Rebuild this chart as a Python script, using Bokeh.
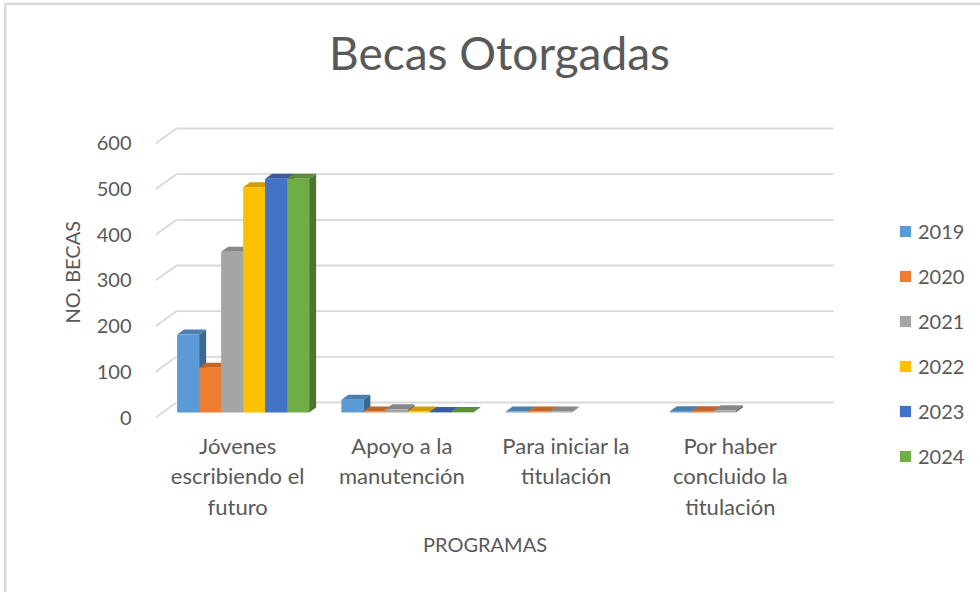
import math
from bokeh.plotting import figure
from bokeh.models import Legend, LegendItem, FixedTicker, Range1d, Title
from bokeh.core.properties import value
from bokeh.embed import file_html
from bokeh.resources import INLINE

# ---------------- data ----------------
categories = [
    "Jóvenes\nescribiendo el\nfuturo",
    "Apoyo a la\nmanutención",
    "Para iniciar la\ntitulación",
    "Por haber\nconcluido la\ntitulación",
]
years = ["2019", "2020", "2021", "2022", "2023", "2024"]
nan = float("nan")
v2019 = [171, 28, 2, 3]
v2020 = [98, 2, 2, 3]
v2021 = [352, 7, 2, 5]
v2022 = [493, 2, nan, nan]
v2023 = [512, 1, nan, nan]
v2024 = [512, 1, nan, nan]
series = [v2019, v2020, v2021, v2022, v2023, v2024]
colors = ["#5B9BD5", "#ED7D31", "#A5A5A5", "#FFC000", "#4472C4", "#70AD47"]
y_ticks = [0, 100, 200, 300, 400, 500, 600]

FONT = "Lato"
TXT = "#595959"
GRID = "#D9D9D9"

# ---------------- layout geometry (page pixels) ----------------
W, H = 980, 592
LEFT = 155            # front-left edge of the floor (y axis position)
ZERO = 417            # page y of value 0 on the front plane
BACK_RIGHT = 833      # right end of the back wall
PX_X = 164.25         # pixels per category slot
PX_Y = 0.4567         # pixels per value unit


def dx(px):  # page x -> data x
    return (px - LEFT) / PX_X


def dy(py):  # page y -> data y
    return (ZERO - py) / PX_Y


DX_FULL, DY_FULL = 21 / PX_X, 15 / PX_Y      # floor depth offset
OX1, OY1 = DX_FULL / 3, DY_FULL / 3          # bar front face depth
OX2, OY2 = 2 * DX_FULL / 3, 2 * DY_FULL / 3  # bar back face depth
BW = 22 / PX_X
GROUP_PAD = (1 - len(years) * BW) / 2 - 1.5 / PX_X


def shade(hex_color, f):
    r, g, b = (int(hex_color[i:i + 2], 16) for i in (1, 3, 5))
    return "#%02x%02x%02x" % (int(r * f), int(g * f), int(b * f))


p = figure(
    width=W, height=H,
    x_range=Range1d(0, dx(W)), y_range=Range1d(dy(H), dy(0)),
    min_border_left=LEFT, min_border_right=0,
    min_border_top=0, min_border_bottom=0,
    x_axis_location=None,
    output_backend="svg", toolbar_location=None,
    background_fill_color=None, border_fill_color=None,
    styles={
        "background-color": "white",
        "box-shadow": ("inset 4px 0 0 white, inset 0 2.5px 0 white, "
                       "inset 6.5px 0 0 #DADADA, inset 0 5px 0 #DADADA"),
    },
)
p.outline_line_color = None
p.xgrid.visible = False
p.ygrid.visible = False

# ---------------- back wall gridlines + left diagonals ----------------
n = len(y_ticks)
gy1 = [t + DY_FULL for t in y_ticks]
p.segment([0] * n, y_ticks, [DX_FULL] * n, gy1, line_color=GRID, line_width=1.8)
p.segment([DX_FULL] * n, gy1, [dx(BACK_RIGHT)] * n, gy1, line_color=GRID, line_width=1.8)

# ---------------- 3D bars ----------------
legend_items = []
for j, (yr, vals, col) in enumerate(zip(years, series, colors)):
    L, R, B, T = [], [], [], []
    side_xs, side_ys, top_xs, top_ys = [], [], [], []
    for i, v in enumerate(vals):
        if v is None or (isinstance(v, float) and math.isnan(v)):
            continue
        xl = i + GROUP_PAD + j * BW + OX1
        xr = xl + BW
        L.append(xl); R.append(xr); B.append(OY1); T.append(v + OY1)
        side_xs.append([xr, xr + (OX2 - OX1), xr + (OX2 - OX1), xr])
        side_ys.append([OY1, OY2, v + OY2, v + OY1])
        top_xs.append([xl, xl + (OX2 - OX1), xr + (OX2 - OX1), xr])
        top_ys.append([v + OY1, v + OY2, v + OY2, v + OY1])
    p.patches(side_xs, side_ys, fill_color=shade(col, 0.68), line_color=None)
    p.patches(top_xs, top_ys, fill_color=shade(col, 0.82), line_color=None)
    r = p.quad(left=L, right=R, bottom=B, top=T, fill_color=col, line_color=None)
    legend_items.append(LegendItem(label=yr, renderers=[r]))

# ---------------- category labels (x axis) ----------------
p.text(
    x=[i + 0.5 for i in range(len(categories))],
    y=[dy(431)] * len(categories),
    text=categories,
    text_font=value(FONT), text_font_size="22px", text_color=TXT,
    text_align="center", text_baseline="top", text_line_height=1.13,
)
p.text(
    x=[dx(484.5)], y=[dy(543)], text=["PROGRAMAS"],
    text_font=value(FONT), text_font_size="20px", text_color=TXT,
    text_align="center", text_baseline="middle",
)

# ---------------- title ----------------
p.text(
    x=[dx(499)], y=[dy(52)], text=["Becas Otorgadas"],
    text_font=value(FONT), text_font_size="46px", text_color=TXT,
    text_align="center", text_baseline="alphabetic",
)

# ---------------- y axis ----------------
p.yaxis.ticker = FixedTicker(ticks=y_ticks)
p.yaxis.axis_line_color = None
p.yaxis.major_tick_line_color = None
p.yaxis.minor_tick_line_color = None
p.yaxis.major_label_standoff = 18
p.yaxis.major_label_text_font = FONT
p.yaxis.major_label_text_font_size = "20px"
p.yaxis.major_label_text_color = TXT

ytitle = Title(text="NO. BECAS", align="left", offset=269, standoff=20,
               text_font=FONT, text_font_size="20px", text_font_style="normal",
               text_color=TXT)
p.add_layout(ytitle, "left")

# ---------------- legend ----------------
legend = Legend(
    items=legend_items, location=(743, 121),
    padding=0, margin=0, spacing=15,
    glyph_width=14, glyph_height=14, label_height=30,
    label_standoff=6, border_line_color=None, background_fill_alpha=0,
    label_text_font=FONT, label_text_font_size="20px", label_text_color=TXT,
)
p.add_layout(legend, "center")

open("out.html", "w").write(file_html(p, INLINE))
